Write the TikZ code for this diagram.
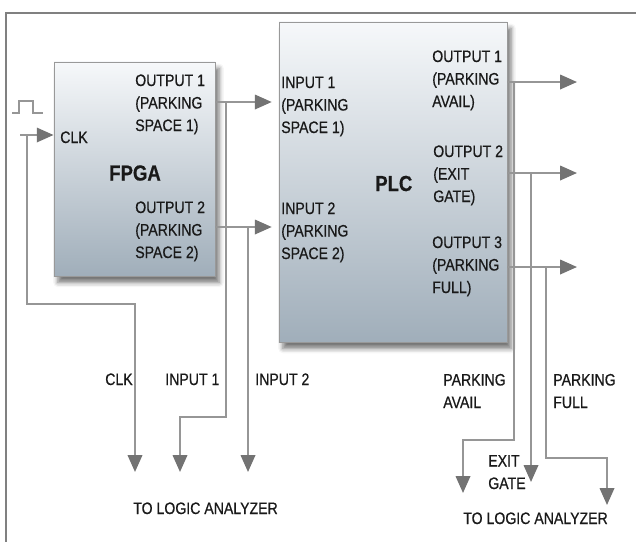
\documentclass[tikz,border=0pt]{standalone}
\usepackage{fontspec}
\setmainfont{Liberation Sans}[FakeStretch=0.85,FakeBold=0.6]
\usepackage{tikz}
\usetikzlibrary{arrows.meta,positioning,calc}
\usetikzlibrary{shadings,shadows,shadows.blur}
\definecolor{wire}{RGB}{150,150,150}
\definecolor{tipcol}{RGB}{115,115,115}
\definecolor{boxtop}{RGB}{246,248,250}
\definecolor{boxbot}{RGB}{160,174,186}
\newcommand{\lbl}{\fontsize{11.8}{16}\selectfont}

\begin{document}
\begin{tikzpicture}[x=0.025cm,y=-0.025cm,
	chip/.style={draw=gray!80,line width=0.6pt,top color=boxtop,bottom color=boxbot,inner sep=0pt,
		blur shadow={shadow xshift=0.1cm,shadow yshift=-0.16cm,shadow blur radius=0.12cm,shadow opacity=55}},
	txt/.style={anchor=base west,align=left,inner sep=0pt,font=\lbl,text=black!90},
	big/.style={anchor=base west,inner sep=0pt,font=\fontsize{15.5}{18}\selectfont\bfseries,text=black!90},
	sig/.style={draw=wire,line width=1.5pt,-{Triangle[length=0.42cm,width=0.36cm,color=tipcol]}},
	tap/.style={draw=wire,line width=1.5pt}]
	\useasboundingbox (0,0) rectangle (636,541);
	\draw[line width=1.6pt,color=gray] (6,545) -- (6,13) -- (642,13);
	% boxes
	\node[chip,minimum width=4.025cm,minimum height=5.35cm] (fpga) at (134.5,169) {};
	\node[chip,minimum width=5.7cm,minimum height=8cm] (plc) at (393,182) {};
	% texts in the boxes (base = last line)
	\node[txt] (fo1) at (135,131) {OUTPUT 1\\(PARKING\\SPACE 1)};
	\node[txt] (fo2) at (135,258) {OUTPUT 2\\(PARKING\\SPACE 2)};
	\node[txt] (fclk) at (60,143) {CLK};
	\node[big] (fname) at (109,180.5) {FPGA};
	\node[txt] (pi1) at (281,133) {INPUT 1\\(PARKING\\SPACE 1)};
	\node[txt] (pi2) at (281,259) {INPUT 2\\(PARKING\\SPACE 2)};
	\node[big] (pname) at (375,191) {PLC};
	\node[txt] (po1) at (432,107) {OUTPUT 1\\(PARKING\\AVAIL)};
	\node[txt] (po2) at (433,202) {OUTPUT 2\\(EXIT\\GATE)};
	\node[txt] (po3) at (432,293) {OUTPUT 3\\(PARKING\\FULL)};
	% labels of the probes
	\node[txt] (lclk) at (105,385) {CLK};
	\node[txt] (lin1) at (165,385) {INPUT 1};
	\node[txt] (lin2) at (255,385) {INPUT 2};
	\node[txt] (lavail) at (443,408) {PARKING\\AVAIL};
	\node[txt] (lfull) at (553,408) {PARKING\\FULL};
	\node[txt] (lexit) at (488,489) {EXIT\\GATE};
	\node[txt] (la1) at (133,514) {TO LOGIC ANALYZER};
	\node[txt] (la2) at (463,524) {TO LOGIC ANALYZER};
	% clock pulse
	\draw[wire,line width=1.2pt] (12,113) -- (19,113) -- (19,101) -- (33,101) -- (33,113) -- (43,113);
	% ends of the wires
	\coordinate (clkin) at (20,135);
	\coordinate (a1) at (135,472);
	\coordinate (a2) at (180,472);
	\coordinate (a3) at (248,472);
	\coordinate (q1) at (577,82);
	\coordinate (q2) at (577,173);
	\coordinate (q3) at (577,267);
	\coordinate (b1) at (463,493);
	\coordinate (b2) at (531,482);
	\coordinate (b3) at (607,505);
	% wires
	\draw[sig] (clkin) -- (clkin -| fpga.west);
	\draw[sig] (27,135) -- (27,304) -| (a1);
	\draw[sig] (fpga.east |- 0,102) -- ([xshift=-0.17cm]plc.west |- 0,102);
	\draw[sig] (fpga.east |- 0,227) -- ([xshift=-0.17cm]plc.west |- 0,227);
	\draw[sig] (226,102) -- (226,417) -| (a2);
	\draw[sig] (248,227) -- (a3);
	\draw[sig] (plc.east |- q1) -- (q1);
	\draw[sig] (plc.east |- q2) -- (q2);
	\draw[sig] (plc.east |- q3) -- (q3);
	\draw[sig] (514,82) -- (514,440) -| (b1);
	\draw[sig] (b2 |- q2) -- (b2);
	\draw[sig] (546,267) -- (546,458) -| (b3);
\end{tikzpicture}
\end{document}
